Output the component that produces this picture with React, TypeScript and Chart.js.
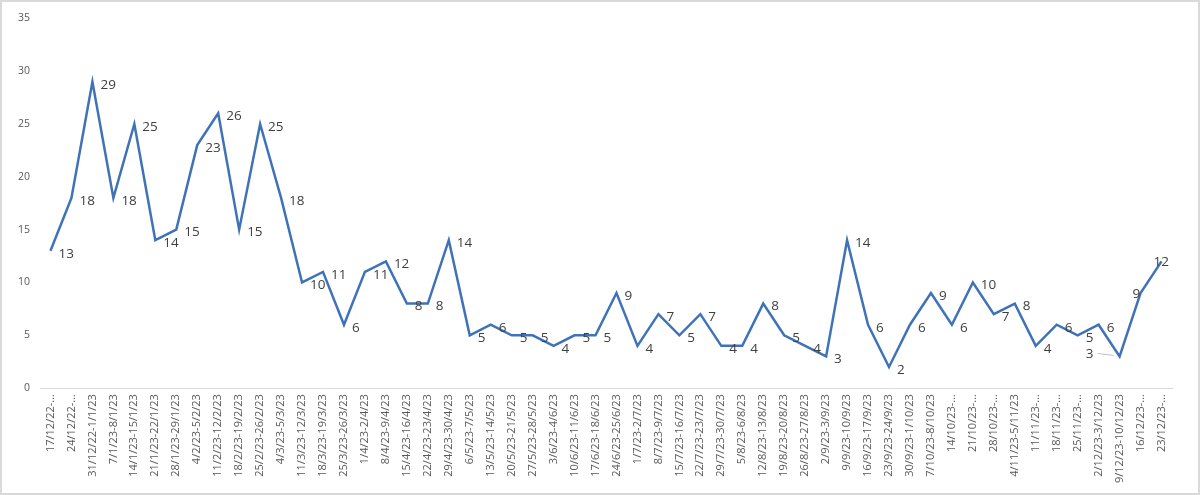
import React, { useEffect, useRef } from "react";
import { Chart, registerables } from "chart.js";

Chart.register(...registerables);

const categories: string[] = [
  "17/12/22-…", "24/12/22-…", "31/12/22-1/1/23", "7/1/23-8/1/23", "14/1/23-15/1/23",
  "21/1/23-22/1/23", "28/1/23-29/1/23", "4/2/23-5/2/23", "11/2/23-12/2/23", "18/2/23-19/2/23",
  "25/2/23-26/2/23", "4/3/23-5/3/23", "11/3/23-12/3/23", "18/3/23-19/3/23", "25/3/23-26/3/23",
  "1/4/23-2/4/23", "8/4/23-9/4/23", "15/4/23-16/4/23", "22/4/23-23/4/23", "29/4/23-30/4/23",
  "6/5/23-7/5/23", "13/5/23-14/5/23", "20/5/23-21/5/23", "27/5/23-28/5/23", "3/6/23-4/6/23",
  "10/6/23-11/6/23", "17/6/23-18/6/23", "24/6/23-25/6/23", "1/7/23-2/7/23", "8/7/23-9/7/23",
  "15/7/23-16/7/23", "22/7/23-23/7/23", "29/7/23-30/7/23", "5/8/23-6/8/23", "12/8/23-13/8/23",
  "19/8/23-20/8/23", "26/8/23-27/8/23", "2/9/23-3/9/23", "9/9/23-10/9/23", "16/9/23-17/9/23",
  "23/9/23-24/9/23", "30/9/23-1/10/23", "7/10/23-8/10/23", "14/10/23-…", "21/10/23-…",
  "28/10/23-…", "4/11/23-5/11/23", "11/11/23-…", "18/11/23-…", "25/11/23-…",
  "2/12/23-3/12/23", "9/12/23-10/12/23", "16/12/23-…", "23/12/23-…",
];

const values: number[] = [
  13, 18, 29, 18, 25, 14, 15, 23, 26, 15,
  25, 18, 10, 11, 6, 11, 12, 8, 8, 14,
  5, 6, 5, 5, 4, 5, 5, 9, 4, 7,
  5, 7, 4, 4, 8, 5, 4, 3, 14, 6,
  2, 6, 9, 6, 10, 7, 8, 4, 6, 5,
  6, 3, 9, 12,
];

const yTicks: number[] = [0, 5, 10, 15, 20, 25, 30, 35];

const LINE_COLOR = "#3f72b8";
const LABEL_COLOR = "#404040";
const AXIS_TEXT = "#595959";

const dataLabelPlugin = {
  id: "pointLabels",
  afterDatasetsDraw(chart: any) {
    const ctx = chart.ctx;
    const meta = chart.getDatasetMeta(0);
    const data = chart.data.datasets[0].data as number[];
    ctx.save();
    ctx.font = "13.5px 'Open Sans', 'Noto Sans', sans-serif";
    ctx.fillStyle = LABEL_COLOR;
    ctx.textBaseline = "middle";
    meta.data.forEach((pt: any, i: number) => {
      const txt = String(data[i]);
      if (i === 51) {
        ctx.textAlign = "right";
        ctx.fillText(txt, pt.x - 26, pt.y - 2);
        ctx.strokeStyle = "#bfbfbf";
        ctx.lineWidth = 1;
        ctx.beginPath();
        ctx.moveTo(pt.x - 22, pt.y - 3);
        ctx.lineTo(pt.x - 6, pt.y - 1);
        ctx.stroke();
      } else if (i === 52 || i === 53) {
        ctx.textAlign = "left";
        ctx.fillText(txt, pt.x - 8, pt.y + 1);
      } else {
        ctx.textAlign = "left";
        ctx.fillText(txt, pt.x + 8, pt.y + 3);
      }
    });
    ctx.restore();
  },
};

export default function App() {
  const canvasRef = useRef<HTMLCanvasElement | null>(null);

  useEffect(() => {
    document.body.style.margin = "0";
    const canvas = canvasRef.current;
    if (!canvas) return;
    const chart = new Chart(canvas, {
      type: "line",
      data: {
        labels: categories,
        datasets: [
          {
            data: values,
            borderColor: LINE_COLOR,
            borderWidth: 2.5,
            pointRadius: 0,
            pointHoverRadius: 0,
            tension: 0,
            fill: false,
          },
        ],
      },
      options: {
        animation: false,
        responsive: false,
        maintainAspectRatio: false,
        layout: { padding: { left: 6, right: 26, top: 12, bottom: 4 } },
        plugins: {
          legend: { display: false },
          tooltip: { enabled: false },
        },
        scales: {
          x: {
            type: "category",
            offset: true,
            grid: { display: false, drawTicks: false },
            border: { display: true, color: "#d9d9d9", width: 1 },
            ticks: {
              autoSkip: false,
              maxRotation: 90,
              minRotation: 90,
              padding: 6,
              color: AXIS_TEXT,
              font: { size: 11, family: "'Open Sans', 'Noto Sans', sans-serif" },
            },
          },
          y: {
            min: 0,
            max: 35,
            afterBuildTicks: (axis: any) => {
              axis.ticks = yTicks.map((v) => ({ value: v }));
            },
            grid: { display: false, drawTicks: false },
            border: { display: false },
            ticks: {
              padding: 10,
              color: AXIS_TEXT,
              font: { size: 10.5, family: "'Open Sans', 'Noto Sans', sans-serif" },
            },
          },
        },
      },
      plugins: [dataLabelPlugin],
    });
    return () => chart.destroy();
  }, []);

  return (
    <div
      style={{
        position: "absolute",
        left: 0,
        top: 0,
        width: 1200,
        height: 495,
        boxSizing: "border-box",
        border: "2px solid #d9d9d9",
        background: "#ffffff",
        overflow: "hidden",
      }}
    >
      <canvas ref={canvasRef} width={1196} height={491} style={{ display: "block" }} />
    </div>
  );
}
